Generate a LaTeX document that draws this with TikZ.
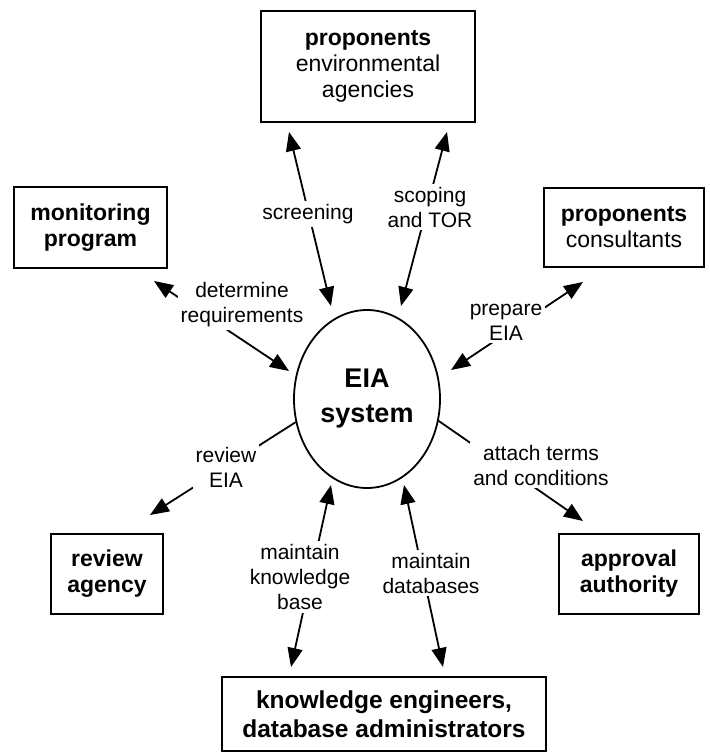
\documentclass[tikz,border=0pt]{standalone}
\usepackage{fontspec}
\setmainfont{Liberation Sans}
\usetikzlibrary{shapes.geometric,arrows.meta}
\begin{document}
\begin{tikzpicture}[x=1pt,y=-1pt,
  boxtext/.style={font=\fontsize{23}{26}\selectfont, align=center},
  box/.style={boxtext, draw, line width=1.8pt, inner sep=0pt},
  lbl/.style={font=\fontsize{21}{25}\selectfont, align=center, fill=white, inner sep=3pt},
  link/.style={line width=1.8pt},
  arr/.style={link, -{Triangle[length=19pt,width=15pt]}},
  dblarr/.style={link, {Triangle[length=19pt,width=15pt]}-{Triangle[length=19pt,width=15pt]}},
]
\useasboundingbox (0,0) rectangle (710,753);

% central system
\node[draw, ellipse, line width=1.8pt, minimum width=146pt, minimum height=178pt,
      inner sep=0pt, align=center, font=\bfseries\fontsize{27}{35}\selectfont]
  (sys) at (367,399) {EIA\\system};

% actors
\node[box, minimum width=214pt, minimum height=111pt] (agencies) at (368,66.5)
  {\textbf{proponents}\\environmental\\agencies};
\node[box, minimum width=153pt, minimum height=81pt] (monitor) at (90.5,227.5)
  {\textbf{monitoring}\\\textbf{program}};
\node[box, minimum width=160pt, minimum height=79pt] (consult) at (624,227.5)
  {\textbf{proponents}\\consultants};
\node[box, minimum width=112pt, minimum height=80pt] (review) at (107,574)
  {\textbf{review}\\\textbf{agency}};
\node[box, minimum width=140pt, minimum height=80pt] (approval) at (629,574)
  {\textbf{approval}\\\textbf{authority}};
\node[box, minimum width=324pt, minimum height=74pt, font=\fontsize{24.5}{29}\selectfont]
  (engineers) at (384,714)
  {\textbf{knowledge engineers,}\\\textbf{database administrators}};

% arrow ends near the boxes and the ellipse
\coordinate (scrT) at (289,132);  \coordinate (scrB) at (331,306);
\coordinate (scpT) at (447,132);  \coordinate (scpB) at (401,306);
\coordinate (detT) at (154,281);  \coordinate (detB) at (289,371);
\coordinate (prepT) at (583,282); \coordinate (prepB) at (451,370);
\coordinate (revT) at (150,515);
\coordinate (attT) at (583,521);
\coordinate (kbT) at (331,485);   \coordinate (kbB) at (291,667);
\coordinate (dbT) at (404,485);   \coordinate (dbB) at (443,667);

% connectors
\draw[dblarr] (scrB) -- (scrT);
\draw[dblarr] (scpB) -- (scpT);
\draw[dblarr] (detB) -- (detT);
\draw[dblarr] (prepB) -- (prepT);
\draw[arr] (sys.198) -- (revT);
\draw[arr] (sys.343) -- (attT);
\draw[dblarr] (kbB) -- (kbT);
\draw[dblarr] (dbB) -- (dbT);

% connector labels
\node[lbl] (Lscr) at (308,214) {screening};
\node[lbl] (Lscp) at (430,207) {scoping\\and TOR};
\node[lbl] (Ldet) at (242,305) {determine\\requirements};
\node[lbl] (Lprep) at (506,322) {prepare\\EIA};
\node[lbl] (Lrev) at (226,467) {review\\EIA};
\node[lbl] (Latt) at (541,465) {attach terms\\and conditions};
\node[lbl] (Lkb) at (300,577) {maintain\\knowledge\\base};
\node[lbl] (Ldb) at (431,573) {maintain\\databases};
\end{tikzpicture}
\end{document}
